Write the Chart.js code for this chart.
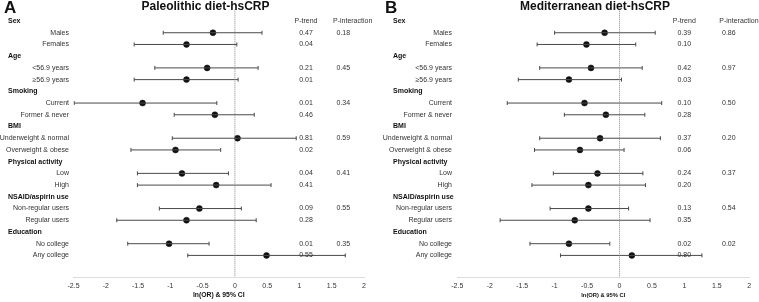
<!DOCTYPE html>
<html>
<head>
<meta charset="utf-8">
<script src="https://cdn.jsdelivr.net/npm/chart.js@4.4.0/dist/chart.umd.min.js"></script>
<style>
  body { margin: 0; background: #fff; }
  #wrap { position: relative; width: 759px; height: 302px; }
  canvas { position: absolute; top: 0; }
</style>
</head>
<body>
<div id="wrap">
  <canvas id="chartA" width="380" height="302" style="left:0px"></canvas>
  <canvas id="chartB" width="379" height="302" style="left:380px"></canvas>
</div>
<script>
const rowLabels = ['Sex', 'Males', 'Females', 'Age', '<56.9 years', '≥56.9 years', 'Smoking', 'Current',
  'Former & never', 'BMI', 'Underweight & normal', 'Overweight & obese', 'Physical activity', 'Low', 'High',
  'NSAID/aspirin use', 'Non-regular users', 'Regular users', 'Education', 'No college', 'Any college'];
const headerRows = [0, 3, 6, 9, 12, 15, 18];
const subgroupRows = [1, 2, 4, 5, 7, 8, 10, 11, 13, 14, 16, 17, 19, 20];
const interactionRows = [1, 4, 7, 10, 13, 16, 19];
const xTicks = [-2.5, -2, -1.5, -1, -0.5, 0, 0.5, 1, 1.5, 2];

// Paleolithic diet - hsCRP, ln(OR) and 95% CI
const paleoEst  = [-0.34, -0.75, -0.43, -0.75, -1.43, -0.31, 0.04, -0.92, -0.82, -0.29, -0.55, -0.75, -1.02, 0.49];
const paleoLow  = [-1.11, -1.56, -1.24, -1.56, -2.49, -0.94, -0.97, -1.61, -1.51, -1.51, -1.17, -1.83, -1.66, -0.73];
const paleoHigh = [0.42, 0.03, 0.36, 0.05, -0.28, 0.30, 0.95, -0.22, -0.10, 0.56, 0.10, 0.33, -0.40, 1.71];
const paleoPTrend = ['0.47', '0.04', '0.21', '0.01', '0.01', '0.46', '0.81', '0.02', '0.04', '0.41', '0.09', '0.28', '0.01', '0.55'];
const paleoPInteraction = ['0.18', '0.45', '0.34', '0.59', '0.41', '0.55', '0.35'];

// Mediterranean diet - hsCRP
const medEst  = [-0.23, -0.51, -0.44, -0.78, -0.54, -0.21, -0.30, -0.61, -0.34, -0.48, -0.48, -0.69, -0.78, 0.19];
const medLow  = [-1.00, -1.27, -1.23, -1.56, -1.73, -0.85, -1.23, -1.31, -1.02, -1.35, -1.07, -1.84, -1.38, -0.91];
const medHigh = [0.55, 0.25, 0.35, 0.03, 0.65, 0.39, 0.63, 0.07, 0.36, 0.40, 0.14, 0.47, -0.15, 1.27];
const medPTrend = ['0.39', '0.10', '0.42', '0.03', '0.10', '0.28', '0.37', '0.06', '0.24', '0.20', '0.13', '0.35', '0.02', '0.80'];
const medPInteraction = ['0.86', '0.97', '0.50', '0.20', '0.37', '0.54', '0.02'];

const FONT = '"Liberation Sans", Arial, sans-serif';

const forestText = {
  id: 'forestText',
  afterDraw(chart, args, o) {
    const ctx = chart.ctx;
    const y = chart.scales.y;
    const area = chart.chartArea;
    ctx.save();
    ctx.textBaseline = 'middle';

    ctx.fillStyle = '#111';
    ctx.font = 'bold 17px ' + FONT;
    ctx.textAlign = 'left';
    ctx.fillText(o.letter, o.letterX, 8);
    ctx.font = 'bold 12px ' + FONT;
    ctx.textAlign = 'center';
    ctx.fillText(o.title, o.titleX, 6.5);

    rowLabels.forEach((lab, r) => {
      const py = y.getPixelForValue(r);
      if (headerRows.includes(r)) {
        ctx.font = 'bold 7px ' + FONT;
        ctx.fillStyle = '#111';
        ctx.textAlign = 'left';
        ctx.fillText(lab, o.headerX, py);
      } else {
        ctx.font = '7px ' + FONT;
        ctx.fillStyle = '#333';
        ctx.textAlign = 'right';
        ctx.fillText(lab, o.labelX, py);
      }
    });

    ctx.font = '7px ' + FONT;
    ctx.fillStyle = '#333';
    const py0 = y.getPixelForValue(0);
    ctx.textAlign = 'center';
    ctx.fillText('P-trend', o.trendX, py0);
    ctx.textAlign = 'left';
    ctx.fillText('P-interaction', o.intHeadX, py0);
    ctx.textAlign = 'center';
    o.pTrend.forEach((t, i) => ctx.fillText(t, o.trendX, y.getPixelForValue(subgroupRows[i])));
    ctx.textAlign = 'left';
    o.pInt.forEach((t, i) => ctx.fillText(t, o.intX, y.getPixelForValue(interactionRows[i])));

    ctx.font = 'bold ' + o.axisFont + 'px ' + FONT;
    ctx.fillStyle = '#111';
    ctx.textAlign = 'center';
    ctx.fillText('ln(OR) & 95% CI', (area.left + area.right) / 2, 295);
    ctx.restore();
  }
};

function makeChart(id, est, low, high, text, pad) {
  const datasets = [{
    data: [{x: 0, y: -1}, {x: 0, y: 21.85}],
    showLine: true,
    borderColor: '#888',
    borderWidth: 1,
    borderDash: [1, 1],
    pointRadius: 0
  }];
  subgroupRows.forEach((r, i) => {
    datasets.push({
      data: [{x: low[i], y: r}, {x: high[i], y: r}],
      showLine: true,
      borderColor: '#4a4a4a',
      borderWidth: 1,
      pointStyle: 'line',
      rotation: 90,
      pointRadius: 2,
      pointBorderColor: '#4a4a4a',
      pointBorderWidth: 1
    });
  });
  datasets.push({
    data: est.map((v, i) => ({x: v, y: subgroupRows[i]})),
    pointRadius: 3,
    pointBackgroundColor: '#111',
    pointBorderColor: '#111',
    pointBorderWidth: 0.5
  });

  return new Chart(document.getElementById(id), {
    type: 'scatter',
    data: { datasets: datasets },
    options: {
      responsive: false,
      animation: false,
      layout: { padding: pad },
      plugins: {
        legend: { display: false },
        tooltip: { enabled: false },
        forestText: text
      },
      scales: {
        x: {
          type: 'linear',
          min: -2.5,
          max: 2,
          afterBuildTicks: s => { s.ticks = xTicks.map(v => ({value: v})); },
          grid: { display: false, drawTicks: false },
          border: { display: true, color: '#ddd', width: 1 },
          ticks: {
            padding: 4.5,
            color: '#333',
            font: { size: 7, family: FONT },
            callback: v => String(v),
            maxRotation: 0,
            autoSkip: false
          }
        },
        y: {
          type: 'linear',
          reverse: true,
          min: -1,
          max: 21.85,
          display: false
        }
      }
    },
    plugins: [forestText]
  });
}

makeChart('chartA', paleoEst, paleoLow, paleoHigh, {
  letter: 'A', letterX: 4, title: 'Paleolithic diet-hsCRP', titleX: 205.5,
  headerX: 8, labelX: 69, trendX: 306, intHeadX: 333, intX: 336.5,
  pTrend: paleoPTrend, pInt: paleoPInteraction, axisFont: 6.8
}, {left: 73.5, right: 16, top: 9.3, bottom: 7.5});

makeChart('chartB', medEst, medLow, medHigh, {
  letter: 'B', letterX: 5, title: 'Mediterranean diet-hsCRP', titleX: 215,
  headerX: 13, labelX: 72, trendX: 304.3, intHeadX: 339.3, intX: 342,
  pTrend: medPTrend, pInt: medPInteraction, axisFont: 5.8
}, {left: 77.3, right: 9.7, top: 9.3, bottom: 7.5});
</script>
</body>
</html>
